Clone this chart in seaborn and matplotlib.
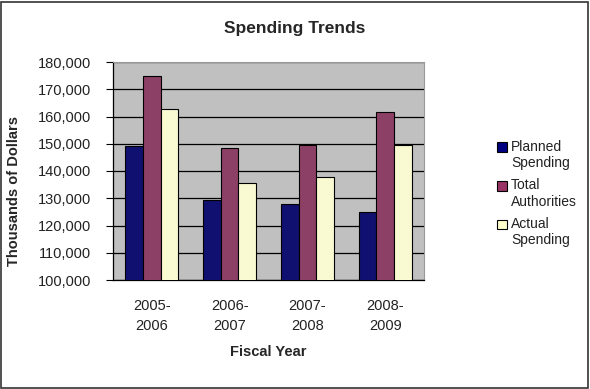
import matplotlib
matplotlib.use("Agg")
import matplotlib.pyplot as plt
import seaborn as sns
import pandas as pd
from matplotlib.ticker import FuncFormatter, FixedLocator
from matplotlib.patches import Rectangle, Patch
from matplotlib.legend_handler import HandlerPatch

categories = ["2005-\n2006", "2006-\n2007", "2007-\n2008", "2008-\n2009"]
series = ["Planned\nSpending", "Total\nAuthorities", "Actual\nSpending"]
planned = [149300, 129400, 128000, 125000]
total = [174800, 148600, 149700, 161600]
actual = [162600, 135500, 137800, 149700]
colors = ["#000080", "#993366", "#FFFFCC"]

rows = []
for s, vals in zip(series, [planned, total, actual]):
    for c, v in zip(categories, vals):
        rows.append({"Fiscal Year": c, "Series": s, "Value": v})
df = pd.DataFrame(rows)

sns.set_style("white")
plt.rcParams["font.family"] = ["Liberation Sans", "DejaVu Sans"]

fig = plt.figure(figsize=(5.9, 3.89), dpi=100)
ax = fig.add_axes([113/590, 1-280/389, 311/590, 218/389])
ax.set_facecolor("#C0C0C0")

sns.barplot(data=df, x="Fiscal Year", y="Value", hue="Series",
            order=categories, hue_order=series, palette=colors,
            width=0.68, edgecolor="black", linewidth=0.8, ax=ax, legend=False,
            zorder=3)

ax.set_ylim(100000, 180000)
ax.set_xlim(-0.5, 3.5)
ax.yaxis.set_major_locator(FixedLocator(list(range(100000, 180001, 10000))))
ax.yaxis.set_major_formatter(FuncFormatter(lambda v, p: f"{int(v):,}"))
ax.grid(axis="y", color="black", linewidth=0.9, zorder=1)
ax.set_axisbelow(True)

ax.set_xticks(range(len(categories)))
ax.set_xticklabels(categories, fontsize=10.5, color="#222222", linespacing=1.55)
ax.xaxis.set_minor_locator(FixedLocator([-0.5, 0.5, 1.5, 2.5, 3.5]))
ax.tick_params(axis="x", which="major", length=0, pad=14)
ax.tick_params(axis="x", which="minor", length=5, width=0.8, direction="out", color="black")
ax.tick_params(axis="y", length=5, width=0.8, direction="out", color="black",
               labelsize=10.5, labelcolor="#222222", pad=11, left=True)

for side in ["top", "right"]:
    ax.spines[side].set_color("#999999")
    ax.spines[side].set_linewidth(0.8)
for side in ["left", "bottom"]:
    ax.spines[side].set_color("black")
    ax.spines[side].set_linewidth(0.9)

ax.set_xlabel("Fiscal Year", fontsize=10.5, fontweight="bold", labelpad=8)
ax.set_ylabel("Thousands of Dollars", fontsize=10.5, fontweight="bold")
ax.yaxis.set_label_coords(-0.295, 0.41)
fig.text(0.5, 1-28/389, "Spending Trends", ha="center", va="center",
         fontsize=12.5, fontweight="bold")


def top_patch(legend, orig_handle, xdescent, ydescent, width, height, fontsize):
    return Rectangle((-xdescent, -ydescent + 0.6 * fontsize), width, height)


handles = [Patch(facecolor=c, edgecolor="black", linewidth=0.8) for c in colors]
leg = fig.legend(handles, series, loc="upper left", bbox_to_anchor=(490/590, 1-133/389),
                 frameon=False, fontsize=10, handlelength=0.7, handleheight=0.7,
                 handletextpad=0.3, labelspacing=0.6, borderpad=0,
                 handler_map={Patch: HandlerPatch(patch_func=top_patch)})
for t in leg.get_texts():
    t.set_color("#222222")

fig.patches.append(Rectangle((1/590, 1/389), 587/590, 386/389, transform=fig.transFigure,
                             fill=False, edgecolor="#333333", linewidth=1.2))

fig.savefig("out.png", dpi=100)
